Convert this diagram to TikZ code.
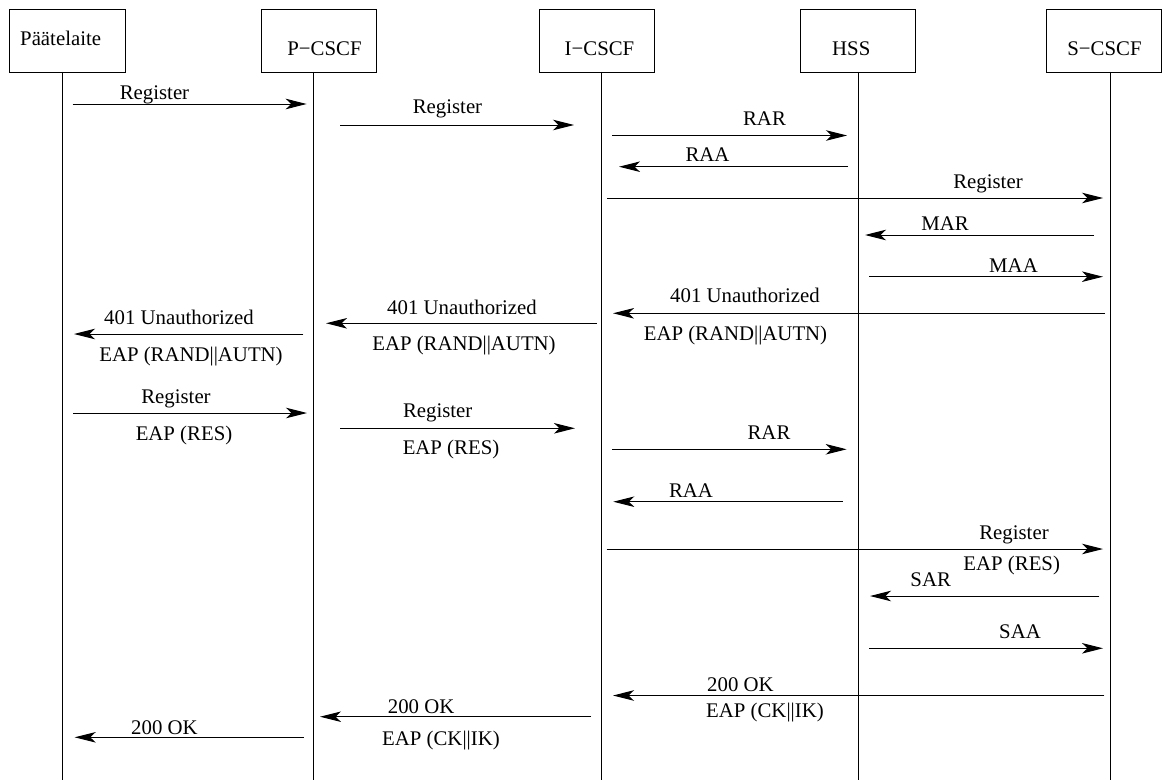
\documentclass[tikz,border=0pt]{standalone}
\usepackage{fontspec}
\setmainfont{Liberation Serif}
\usetikzlibrary{arrows.meta}

% one message: name, start x, end x, y
\newcommand\sendmsg[4]{%
  \coordinate (#1-from) at (#2,#4);
  \coordinate (#1-to) at (#3,#4);
  \draw[msg] (#1-from) -- (#1-to);}

\begin{document}
\begin{tikzpicture}[x=1bp,y=-1bp,
  every node/.style={font=\fontsize{20.8bp}{25bp}\selectfont, inner sep=0pt},
  entity/.style={draw, line width=1bp, minimum width=115bp, minimum height=62bp},
  lifeline/.style={line width=1bp},
  msg/.style={line width=1bp, -{Stealth[length=21bp,width=10.5bp,inset=5.5bp]}},
  lbl/.style={anchor=base},
  lblw/.style={anchor=base west}]
\useasboundingbox (0,0) rectangle (1162,780);

% entities
\node[entity] (ue)    at (67.5,41)   {};
\node[entity] (pcscf) at (319,41)    {};
\node[entity] (icscf) at (596.5,41)  {};
\node[entity] (hss)   at (858.3,41)  {};
\node[entity, minimum width=114.5bp] (scscf) at (1104.2,41) {};

\node[lblw] (ue-t)    at (20,45.5)     {Päätelaite};
\node[lbl]  (pcscf-t) at (324.5,55.5)  {P−CSCF};
\node[lbl]  (icscf-t) at (599.5,55.5)  {I−CSCF};
\node[lbl]  (hss-t)   at (851.3,55.5)  {HSS};
\node[lbl]  (scscf-t) at (1104.5,55.5) {S−CSCF};

% lifelines
\foreach \n/\x in {ue/62.5, pcscf/313.8, icscf/601.7, hss/858.3, scscf/1110}{
  \coordinate (\n-top) at (\x,72);
  \coordinate (\n-end) at (\x,780);
  \draw[lifeline] (\n-top) -- (\n-end);
}

% first registration
\sendmsg{m1}{72.7}{306.7}{104}
\node[lbl] (m1-t) at (154.5,99.5) {Register};
\sendmsg{m2}{340}{574}{125}
\node[lbl] (m2-t) at (447.5,114) {Register};
\sendmsg{m3}{612}{847}{135.5}
\node[lbl] (m3-t) at (764.5,125) {RAR};
\sendmsg{m4}{848}{619}{166.7}
\node[lbl] (m4-t) at (707.5,161.7) {RAA};
\sendmsg{m5}{607}{1103}{198}
\node[lbl] (m5-t) at (988,188) {Register};
\sendmsg{m6}{1094}{865}{235}
\node[lbl] (m6-t) at (945,230.5) {MAR};
\sendmsg{m7}{869}{1103}{276.7}
\node[lbl] (m7-t) at (1013.5,272) {MAA};

% challenge
\sendmsg{m8}{1105}{613}{313.3}
\node[lbl] (m8-t) at (745,302.7) {401 Unauthorized};
\node[lbl] (m8-u) at (735.5,340.5) {EAP (RAND||AUTN)};
\sendmsg{m9}{596.7}{326}{323.3}
\node[lbl] (m9-t) at (462,314) {401 Unauthorized};
\node[lbl] (m9-u) at (464,350.5) {EAP (RAND||AUTN)};
\sendmsg{m10}{303.3}{74}{334}
\node[lbl] (m10-t) at (179,324.3) {401 Unauthorized};
\node[lbl] (m10-u) at (191,361) {EAP (RAND||AUTN)};

% response
\sendmsg{m11}{73}{307}{413}
\node[lbl] (m11-t) at (176,403.3) {Register};
\node[lbl] (m11-u) at (184,440) {EAP (RES)};
\sendmsg{m12}{340}{575}{428.3}
\node[lbl] (m12-t) at (437.7,417.7) {Register};
\node[lbl] (m12-u) at (451,454.5) {EAP (RES)};
\sendmsg{m13}{612.3}{846.7}{449.3}
\node[lbl] (m13-t) at (769,439) {RAR};
\sendmsg{m14}{842.7}{613.3}{501.7}
\node[lbl] (m14-t) at (691,497.3) {RAA};
\sendmsg{m15}{606.7}{1103}{549}
\node[lbl] (m15-t) at (1014,539) {Register};
\node[lbl] (m15-u) at (1011.7,570) {EAP (RES)};
\sendmsg{m16}{1099.3}{870}{596}
\node[lbl] (m16-t) at (930.7,586.5) {SAR};
\sendmsg{m17}{869.3}{1103}{648.3}
\node[lbl] (m17-t) at (1020,638) {SAA};

% success
\sendmsg{m18}{1104.3}{613}{695.5}
\node[lblw] (m18-t) at (707,691) {200 OK};
\node[lblw] (m18-u) at (706,717) {EAP (CK||IK)};
\sendmsg{m19}{591}{320}{716.7}
\node[lblw] (m19-t) at (387.7,713) {200 OK};
\node[lblw] (m19-u) at (382,745.5) {EAP (CK||IK)};
\sendmsg{m20}{303.8}{74.7}{737.3}
\node[lblw] (m20-t) at (131,734) {200 OK};
\end{tikzpicture}
\end{document}
